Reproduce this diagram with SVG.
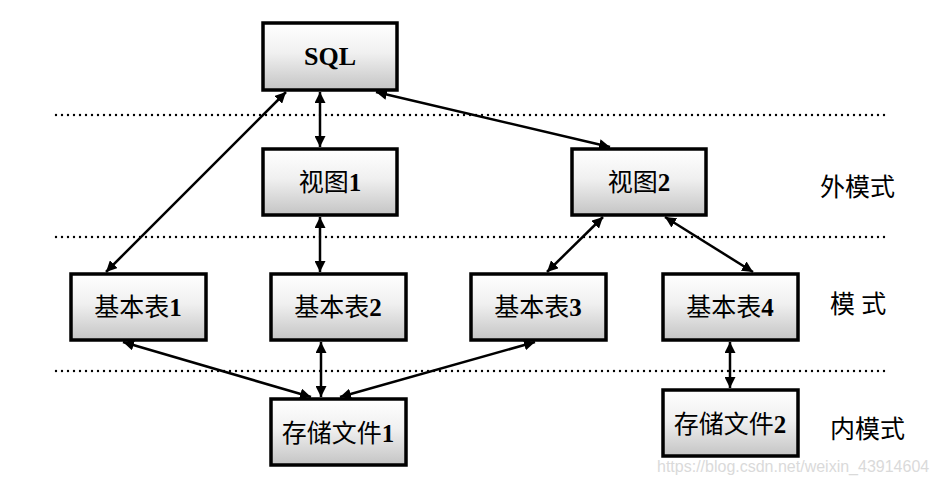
<svg xmlns="http://www.w3.org/2000/svg" width="937" height="485" viewBox="0 0 937 485">
<defs>
<linearGradient id="g" x1="0" y1="0" x2="0" y2="1">
<stop offset="0" stop-color="#ffffff"/>
<stop offset="0.45" stop-color="#f0f0f0"/>
<stop offset="1" stop-color="#c4c4c4"/>
</linearGradient>
<marker id="ah" viewBox="0 0 10 10" refX="10" refY="5" markerWidth="4.4" markerHeight="4.4" orient="auto-start-reverse" markerUnits="strokeWidth">
<path d="M0,0 L10,5 L0,10 z" fill="#000"/>
</marker>
<style>
.box{fill:url(#g);stroke:#000;stroke-width:3.5}
.t{font-family:"Liberation Serif","Noto Sans CJK SC",serif;font-size:25px;text-anchor:middle;fill:#000}
.b{font-weight:bold}
.lab{font-family:"Liberation Serif","Noto Sans CJK SC",serif;font-size:25px;fill:#000}
.dot{stroke:#000;stroke-width:2.4;stroke-linecap:round;stroke-dasharray:0 6;fill:none}
.c{stroke:#000;stroke-width:2.5;fill:none;marker-start:url(#ah);marker-end:url(#ah)}
</style>
</defs>
<rect width="937" height="485" fill="#fff"/>
<g id="dots">
<line class="dot" x1="56" y1="115" x2="888" y2="115"/>
<line class="dot" x1="56" y1="237" x2="888" y2="237"/>
<line class="dot" x1="56" y1="371" x2="888" y2="371"/>
</g>
<g id="connectors">
<line class="c" x1="286" y1="92" x2="106" y2="272"/>
<line class="c" x1="320" y1="92" x2="320" y2="147"/>
<line class="c" x1="376" y1="92" x2="610" y2="147"/>
<line class="c" x1="320" y1="217" x2="320" y2="272"/>
<line class="c" x1="603" y1="217" x2="547" y2="272"/>
<line class="c" x1="665" y1="217" x2="753" y2="272"/>
<line class="c" x1="123" y1="342" x2="311" y2="397"/>
<line class="c" x1="321" y1="342" x2="321" y2="397"/>
<line class="c" x1="535" y1="342" x2="340" y2="397"/>
<line class="c" x1="730" y1="342" x2="730" y2="388"/>
</g>
<g id="sql"><rect class="box" x="263" y="23" width="134" height="67"/><text class="t b" x="330" y="65" style="font-size:26px">SQL</text></g>
<g id="view1"><rect class="box" x="263" y="149" width="134" height="66"/><text class="t" x="330" y="191">视图<tspan class="b">1</tspan></text></g>
<g id="view2"><rect class="box" x="572" y="149" width="134" height="66"/><text class="t" x="639" y="191">视图<tspan class="b">2</tspan></text></g>
<g id="table1"><rect class="box" x="71" y="274" width="135" height="66"/><text class="t" x="138" y="316">基本表<tspan class="b">1</tspan></text></g>
<g id="table2"><rect class="box" x="271" y="274" width="135" height="66"/><text class="t" x="338" y="316">基本表<tspan class="b">2</tspan></text></g>
<g id="table3"><rect class="box" x="471" y="274" width="135" height="66"/><text class="t" x="538" y="316">基本表<tspan class="b">3</tspan></text></g>
<g id="table4"><rect class="box" x="663" y="274" width="135" height="66"/><text class="t" x="730" y="316">基本表<tspan class="b">4</tspan></text></g>
<g id="file1"><rect class="box" x="271" y="399" width="135" height="66"/><text class="t" x="338" y="442">存储文件<tspan class="b">1</tspan></text></g>
<g id="file2"><rect class="box" x="663" y="390" width="135" height="66"/><text class="t" x="730" y="433">存储文件<tspan class="b">2</tspan></text></g>
<g id="labels">
<text class="lab" x="820" y="196">外模式</text>
<text class="lab" x="830" y="313">模 式</text>
<text class="lab" x="830" y="438">内模式</text>
</g>
<text x="657" y="472" style="font-family:'Liberation Sans',Arial,sans-serif;font-size:16px;fill:#dadada">https://blog.csdn.net/weixin_43914604</text>
</svg>
